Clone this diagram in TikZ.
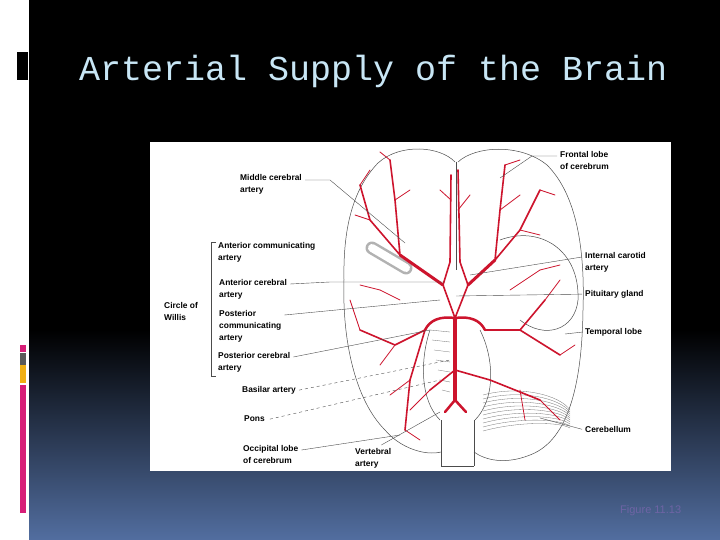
\documentclass[tikz,border=0pt]{standalone}
\usepackage{fontspec}
\setmainfont{Liberation Sans}
\newfontfamily\titlefont{Liberation Mono}
\definecolor{ttl}{RGB}{200,230,245}
\definecolor{bot}{RGB}{82,110,160}
\definecolor{art}{RGB}{205,20,45}
\definecolor{pinkb}{RGB}{215,30,120}
\definecolor{orb}{RGB}{240,175,20}
\definecolor{fig}{RGB}{110,100,165}
\begin{document}
\begin{tikzpicture}[x=1pt,y=-1pt,
  lbl/.style={font=\fontsize{8.4}{12}\selectfont\bfseries,align=left,anchor=north west,inner sep=0pt},
  lead/.style={draw=black!70,line width=0.4pt},
  art/.style={draw=art,line width=1.6pt,line cap=round,line join=round},
  artt/.style={draw=art,line width=0.8pt,line cap=round},
  outl/.style={draw=black!70,line width=0.5pt}]
\useasboundingbox (0,0) rectangle (720,540);
\fill[white] (0,0) rectangle (29,540);
\fill[black] (29,0) rectangle (720,330);
\shade[top color=black,bottom color=bot] (29,330) rectangle (720,540);
\fill[black] (17,52) rectangle (28,80);
\fill[pinkb] (20,345) rectangle (26,352);
\fill[gray!70!black] (20,353) rectangle (26,365);
\fill[orb] (20,365) rectangle (26,383);
\fill[pinkb] (20,385) rectangle (26,513);
\node[anchor=west,text=ttl,font=\titlefont\fontsize{35}{36}\selectfont,inner sep=0pt] (title) at (79,71) {Arterial Supply of the Brain};
\node[anchor=west,text=fig,font=\fontsize{11}{12}\selectfont,inner sep=0pt] (figno) at (620,511) {Figure 11.13};
% image panel
\fill[white] (150,142) rectangle (671,471);
% brain outline
\draw[outl] (455,162) .. controls (440,146) and (400,143) .. (378,163)
  .. controls (352,190) and (343,230) .. (344,280)
  .. controls (342,340) and (355,400) .. (385,430)
  .. controls (400,448) and (425,456) .. (441,452);
\draw[outl] (458,162) .. controls (475,146) and (520,143) .. (547,165)
  .. controls (577,195) and (585,250) .. (583,310)
  .. controls (582,380) and (570,440) .. (530,455)
  .. controls (505,465) and (485,460) .. (474,452);
\draw[outl] (456,162) -- (456,270);
\draw[outl] (441,420) -- (441,466) (474,420) -- (474,466) (441,466) -- (474,466);
\draw[outl] (500,240) .. controls (540,225) and (580,250) .. (578,300) .. controls (575,330) and (545,340) .. (520,320);
\draw[outl] (430,330) .. controls (420,360) and (420,400) .. (440,420);
\draw[outl] (480,330) .. controls (495,360) and (495,400) .. (475,420);
\foreach \i in {0,...,9}{\draw[black!55,line width=0.3pt] (483,{395+4*\i}) .. controls (520,{385+4*\i}) and (560,{395+3*\i}) .. (570,{410+2*\i});}
\foreach \i in {0,...,6}{\draw[black!55,line width=0.3pt] ({430+2*\i},{330+10*\i}) -- ({450},{332+10*\i});}
% gray capsule
\draw[gray!60,line width=13pt,line cap=round] (372,248) -- (406,268);
\draw[white,line width=8pt,line cap=round] (372,248) -- (406,268);
% circle of Willis and main arteries
\draw[art,line width=4pt] (455,318) -- (455,400);
\draw[art,line width=2.5pt] (455,400) -- (445,412) (455,400) -- (466,412);
\draw[art,line width=2.5pt] (455,318) .. controls (440,316) and (430,320) .. (425,330);
\draw[art,line width=2.5pt] (455,318) .. controls (470,316) and (480,320) .. (485,330);
\draw[art] (455,318) -- (443,285) (455,318) -- (468,285);
\draw[art,line width=3pt] (443,285) -- (400,255) (468,285) -- (495,260);
\draw[art] (443,285) -- (450,262) -- (451,175) (468,285) -- (460,262) -- (458,170);
\draw[art] (400,255) -- (370,220) -- (360,185) (400,255) -- (395,200) -- (390,160);
\draw[art] (495,260) -- (520,230) -- (540,190) (495,260) -- (500,210) -- (505,165);
\draw[art] (425,330) -- (395,345) -- (360,330) (425,330) -- (410,380) -- (405,430);
\draw[art] (485,330) -- (520,330) -- (545,300) (520,330) -- (560,355);
\draw[art] (455,370) -- (490,380) -- (540,400) (455,370) -- (430,390);
\foreach \a/\b/\c/\d in {370/220/355/215, 395/200/410/190, 360/185/370/170, 390/160/380/152,
  520/230/540/235, 500/210/520/195, 540/190/555/195, 505/165/520/160, 451/200/440/190,
  458/210/470/195, 395/345/380/365, 360/330/350/300, 410/380/390/395, 405/430/420/440,
  545/300/560/280, 560/355/575/345, 540/400/560/420, 520/390/525/420, 430/390/410/410,
  400/300/380/290, 380/290/360/285, 510/290/540/270, 540/270/560/265}
  {\draw[artt] (\a,\b) -- (\c,\d);}
% left labels
\node[lbl] (mca) at (240,174) {Middle cerebral\\artery};
\node[lbl] (aca1) at (218,242) {Anterior communicating\\artery};
\node[lbl] (aca) at (219,279) {Anterior cerebral\\artery};
\node[lbl] (pcom) at (219,310) {Posterior\\communicating\\artery};
\node[lbl] (pca) at (218,352) {Posterior cerebral\\artery};
\node[lbl] (cow) at (164,302) {Circle of\\Willis};
\node[lbl] (bas) at (242,386) {Basilar artery};
\node[lbl] (pons) at (244,416) {Pons};
\node[lbl] (occ) at (243,445) {Occipital lobe\\of cerebrum};
\node[lbl] (vert) at (355,448) {Vertebral\\artery};
\node[lbl] (front) at (560,151) {Frontal lobe\\of cerebrum};
\node[lbl] (ica) at (585,252) {Internal carotid\\artery};
\node[lbl] (pit) at (585,290) {Pituitary gland};
\node[lbl] (temp) at (585,328) {Temporal lobe};
\node[lbl] (cer) at (585,426) {Cerebellum};
% bracket
\draw[black!70,line width=0.5pt] (216,242) -- (211,242) -- (211,376) -- (216,376);
% leaders
\coordinate (tmca) at (405,243); \draw[lead] (mca.north east)++(3,6) -- ++(25,0) -- (tmca);
\coordinate (taca) at (445,282); \draw[lead] (aca.north east)++(3,5) -- ++(40,-2) -- (taca);
\coordinate (tpcom) at (440,300); \draw[lead] (pcom.north east)++(3,5) -- (tpcom);
\coordinate (tpca) at (430,330); \draw[lead] (pca.north east)++(3,5) -- (tpca);
\coordinate (tbas) at (450,360); \draw[lead,dashed] (bas.east)++(3,0) -- (tbas);
\coordinate (tpons) at (440,380); \draw[lead,dashed] (pons.east)++(5,0) -- (tpons);
\coordinate (tocc) at (400,435); \draw[lead] (occ.north east)++(3,5) -- (tocc);
\coordinate (tvert) at (440,412); \draw[lead] (vert.north east)++(-10,-3) -- (tvert);
\coordinate (tfront) at (500,178); \draw[lead] (front.north west)++(-3,5) -- ++(-25,0) -- (tfront);
\coordinate (tica) at (470,275); \draw[lead] (ica.north west)++(-3,5) -- (tica);
\coordinate (tpit) at (456,296); \draw[lead] (pit.west)++(-3,0) -- (tpit);
\coordinate (ttemp) at (565,334); \draw[lead] (temp.west)++(-3,0) -- (ttemp);
\coordinate (tcer) at (540,418); \draw[lead] (cer.west)++(-3,0) -- (tcer);
\end{tikzpicture}
\end{document}
